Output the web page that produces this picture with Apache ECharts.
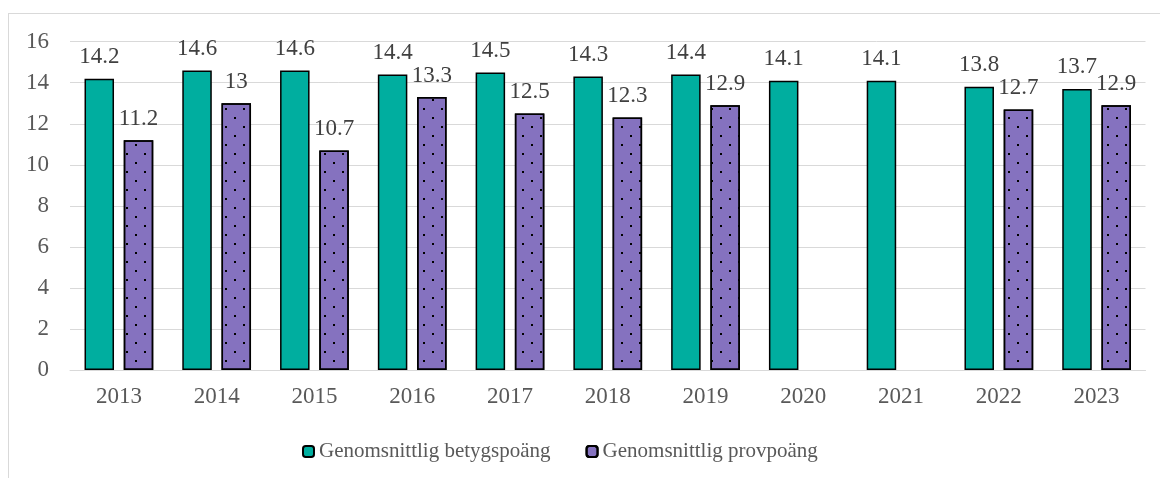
<!DOCTYPE html>
<html>
<head>
<meta charset="utf-8">
<script src="https://cdn.jsdelivr.net/npm/echarts@6/dist/echarts.min.js"></script>
<style>
  html, body { margin: 0; padding: 0; background: #ffffff; }
  #frame { position: absolute; left: 8px; top: 13px; width: 1170px; height: 500px; border: 1px solid #d9d9d9; box-sizing: border-box; }
  #chart { position: absolute; left: 0; top: 0; width: 1160px; height: 478px; }
</style>
</head>
<body>
<div id="frame"></div>
<div id="chart"></div>
<script>
const categories = ['2013', '2014', '2015', '2016', '2017', '2018', '2019', '2020', '2021', '2022', '2023'];
const betygspoang = [14.2, 14.6, 14.6, 14.4, 14.5, 14.3, 14.4, 14.1, 14.1, 13.8, 13.7];
const provpoang = [11.2, 13, 10.7, 13.3, 12.5, 12.3, 12.9, null, null, 12.7, 12.9];
const seriesNames = ['Genomsnittlig betygspoäng', 'Genomsnittlig provpoäng'];
const yTicks = { min: 0, max: 16, interval: 2 };

const FONT = "'Liberation Serif', 'Times New Roman', serif";
const chart = echarts.init(document.getElementById('chart'), null, { renderer: 'canvas' });

const labelStyle = {
  show: true,
  position: 'top',
  distance: 10,
  color: '#404040',
  fontFamily: FONT,
  fontSize: 23
};

chart.setOption({
  animation: false,
  backgroundColor: 'transparent',
  grid: { left: 70, right: 14.5, top: 41.7, bottom: 108, containLabel: false },
  legend: {
    left: 297,
    top: 436,
    itemWidth: 11,
    itemHeight: 11,
    itemGap: 35,
    textStyle: { color: '#595959', fontFamily: FONT, fontSize: 21 },
    data: seriesNames
  },
  xAxis: {
    type: 'category',
    data: categories,
    axisLine: { lineStyle: { color: '#d9d9d9', width: 1 } },
    axisTick: { show: false },
    axisLabel: { color: '#595959', fontFamily: FONT, fontSize: 23, margin: 15 }
  },
  yAxis: {
    type: 'value',
    min: yTicks.min,
    max: yTicks.max,
    interval: yTicks.interval,
    axisLine: { show: false },
    axisTick: { show: false },
    splitLine: { lineStyle: { color: '#d9d9d9', width: 1 } },
    axisLabel: { color: '#595959', fontFamily: FONT, fontSize: 23, margin: 21 }
  },
  series: [
    {
      name: seriesNames[0],
      type: 'bar',
      data: betygspoang,
      barWidth: 29.5,
      barGap: '33%',
      itemStyle: { color: '#00ae9f', borderColor: '#000000', borderWidth: 1.5 },
      label: labelStyle
    },
    {
      name: seriesNames[1],
      type: 'bar',
      data: provpoang,
      barWidth: 29.5,
      barGap: '33%',
      itemStyle: {
        color: '#8572bf',
        borderColor: '#000000',
        borderWidth: 1.5,
        decal: {
          symbol: 'rect',
          symbolSize: 1,
          color: '#000000',
          backgroundColor: null,
          dashArrayX: [[2, 15.3], [0, 8.65, 2, 6.65]],
          dashArrayY: [2, 6.65],
          rotation: 0
        }
      },
      label: labelStyle
    }
  ]
});
</script>
</body>
</html>
